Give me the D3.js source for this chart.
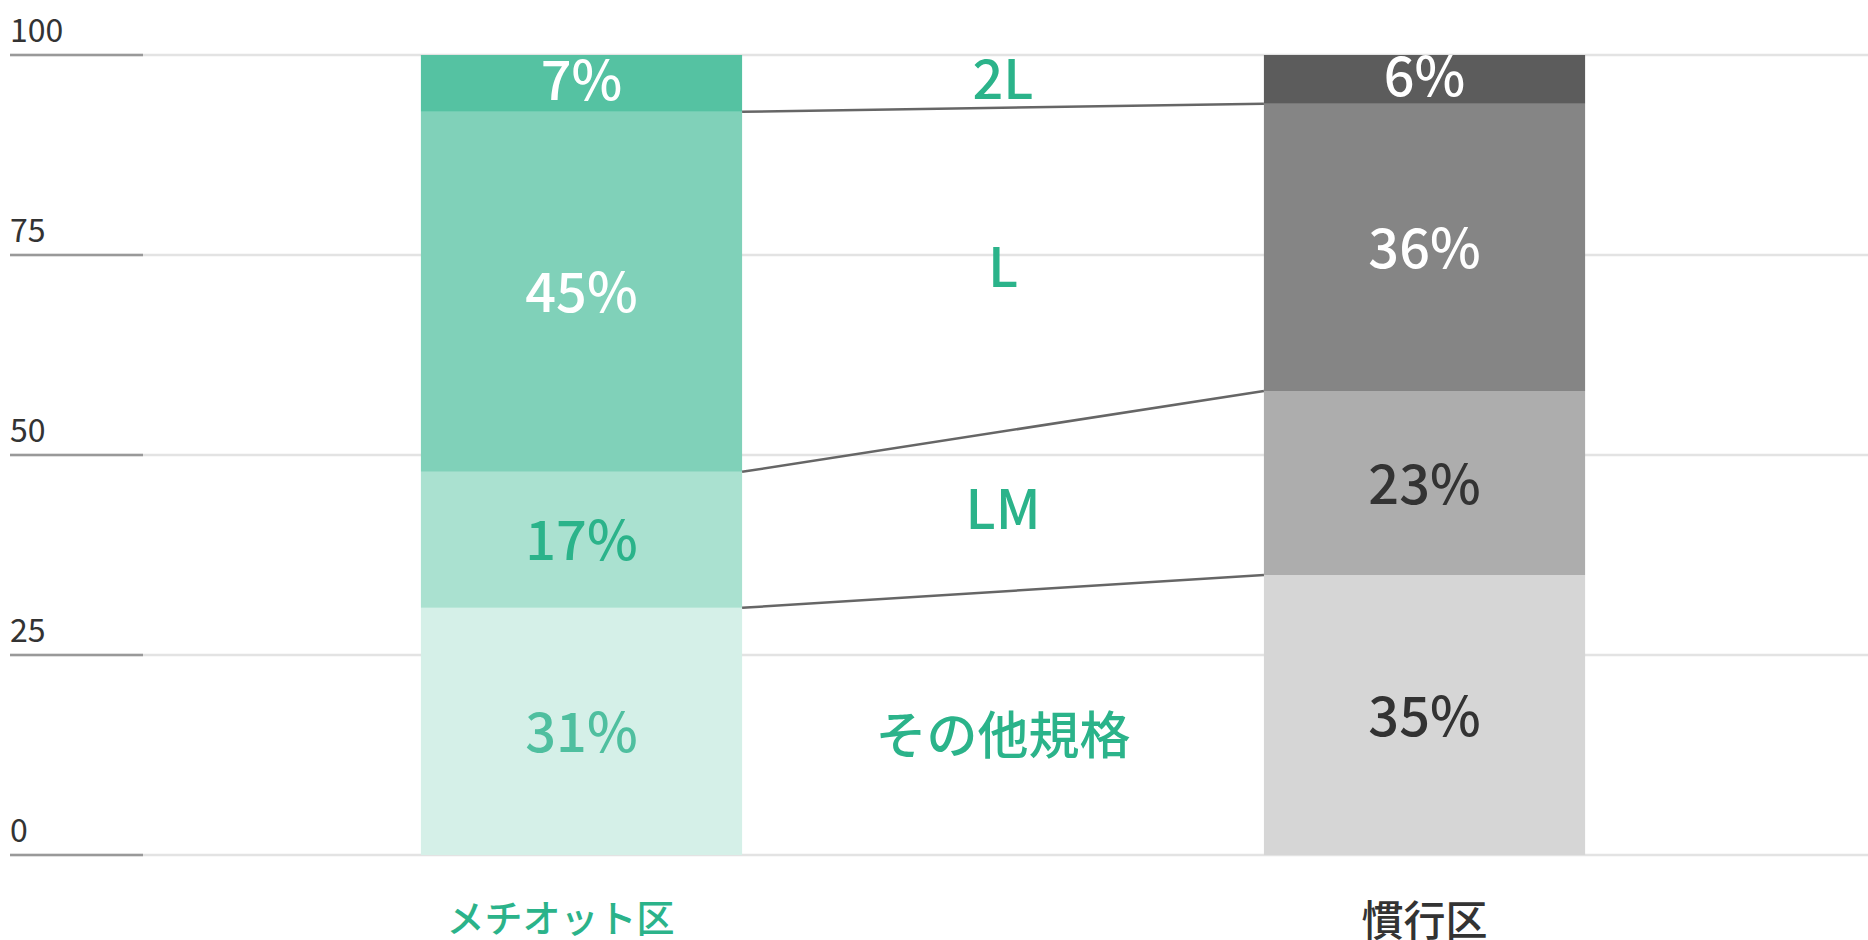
<!DOCTYPE html>
<html>
<head>
<meta charset="utf-8">
<script src="https://cdn.jsdelivr.net/npm/d3@7"></script>
<style>
  body { margin: 0; background: #fff; }
  svg text { font-family: "Noto Sans CJK JP", "Noto Sans", sans-serif; font-weight: 500; }
</style>
</head>
<body>
<div id="chart"></div>
<script>
// values (percent, bottom to top)
const groups = ["メチオット区", "慣行区"];
const grades = ["その他規格", "LM", "L", "2L"];
const methioValues = [30.9, 17.0, 45.0, 7.1];
const conventionalValues = [35.0, 23.0, 35.9, 6.1];
const yTicks = [0, 25, 50, 75, 100];

function getConfig(){
  let width = 1868;
  let height = 940;
  let margin = { top: 55, bottom: 85, left: 10, right: 0 };
  let bodyHeight = height - margin.top - margin.bottom;
  let container = d3.select("#chart").append("svg")
    .attr("width", width)
    .attr("height", height);
  return {width, height, margin, bodyHeight, container};
}

function getScales(config){
  let {margin, height} = config;
  let xScale = d3.scaleBand()
    .domain(groups)
    .range([168, 1838])
    .paddingInner(0.619)
    .paddingOuter(0.3);
  let yScale = d3.scaleLinear()
    .domain([0, 100])
    .range([height - margin.bottom, margin.top]);
  return {xScale, yScale};
}

// turn a list of values into stacked segments
function stackUp(values){
  let acc = 0;
  return values.map((v, i) => {
    let seg = {grade: grades[i], value: v, y0: acc, y1: acc + v};
    acc += v;
    return seg;
  });
}

function drawGrid(config, scales){
  let {container, width, margin} = config;
  let {yScale} = scales;
  let grid = container.append("g").attr("class", "grid");

  grid.selectAll("line.light").data(yTicks).enter().append("line")
    .attr("x1", margin.left).attr("x2", width)
    .attr("y1", d => yScale(d)).attr("y2", d => yScale(d))
    .attr("stroke", "#e3e3e3").attr("stroke-width", 2.5);

  grid.selectAll("line.dark").data(yTicks).enter().append("line")
    .attr("x1", margin.left).attr("x2", 143)
    .attr("y1", d => yScale(d)).attr("y2", d => yScale(d))
    .attr("stroke", "#999").attr("stroke-width", 2.5);

  grid.selectAll("text").data(yTicks).enter().append("text")
    .attr("x", margin.left)
    .attr("y", d => yScale(d) - 13)
    .attr("font-size", 32)
    .style("font-weight", 400)
    .attr("fill", "#333")
    .text(d => d);
}

function drawBars(config, scales){
  let {container} = config;
  let {xScale, yScale} = scales;
  let bw = xScale.bandwidth();

  let series = [
    {group: groups[0], segs: stackUp(methioValues),
     fills: ["#d5f0e8", "#aae1d0", "#80d1b9", "#55c2a2"],
     textFills: ["#4fbf9f", "#2bb38a", "#fff", "#fff"]},
    {group: groups[1], segs: stackUp(conventionalValues),
     fills: ["#d6d6d6", "#adadad", "#858585", "#5c5c5c"],
     textFills: ["#333", "#333", "#fff", "#fff"]}
  ];

  series.forEach(s => {
    let g = container.append("g").attr("class", "bar");
    g.selectAll("rect").data(s.segs).enter().append("rect")
      .attr("x", xScale(s.group))
      .attr("width", bw)
      .attr("y", d => yScale(d.y1))
      .attr("height", d => yScale(d.y0) - yScale(d.y1))
      .attr("fill", (d, i) => s.fills[i]);

    g.selectAll("text").data(s.segs).enter().append("text")
      .attr("x", xScale(s.group) + bw / 2)
      .attr("y", d => (yScale(d.y0) + yScale(d.y1)) / 2)
      .attr("dy", (d, i) => i == 3 ? "0.3em" : "0.38em")
      .attr("text-anchor", "middle")
      .attr("font-size", 54)
      .attr("fill", (d, i) => s.textFills[i])
      .text(d => Math.round(d.value) + "%");
  });

  // connector lines between the two bars
  let left = series[0].segs, right = series[1].segs;
  let x1 = xScale(groups[0]) + bw, x2 = xScale(groups[1]);
  container.append("g").selectAll("line")
    .data(d3.range(1, grades.length))
    .enter().append("line")
    .attr("x1", x1).attr("x2", x2)
    .attr("y1", i => yScale(left[i].y0))
    .attr("y2", i => yScale(right[i].y0))
    .attr("stroke", "#666").attr("stroke-width", 2.5);

  // grade names in the middle
  let midX = (x1 + x2) / 2;
  container.append("g").selectAll("text")
    .data(grades)
    .enter().append("text")
    .attr("x", midX)
    .attr("y", (d, i) => (yScale(left[i].y0) + yScale(left[i].y1) + yScale(right[i].y0) + yScale(right[i].y1)) / 4)
    .attr("dy", (d, i) => i == 0 ? "0.6em" : "0.33em")
    .attr("text-anchor", "middle")
    .attr("font-size", (d, i) => i == 0 ? 51 : 54)
    .attr("fill", "#2bb38a")
    .text(d => d);

  // group labels below
  container.append("g").selectAll("text")
    .data(groups)
    .enter().append("text")
    .attr("x", d => xScale(d) + bw / 2)
    .attr("dx", (d, i) => i == 0 ? -21 : 0)
    .attr("y", (d, i) => i == 0 ? 932 : 936)
    .attr("text-anchor", "middle")
    .attr("font-size", (d, i) => i == 0 ? 38 : 42)
    .attr("fill", (d, i) => i == 0 ? "#2bb38a" : "#333")
    .text(d => d);
}

let config = getConfig();
let scales = getScales(config);
drawGrid(config, scales);
drawBars(config, scales);
</script>
</body>
</html>
